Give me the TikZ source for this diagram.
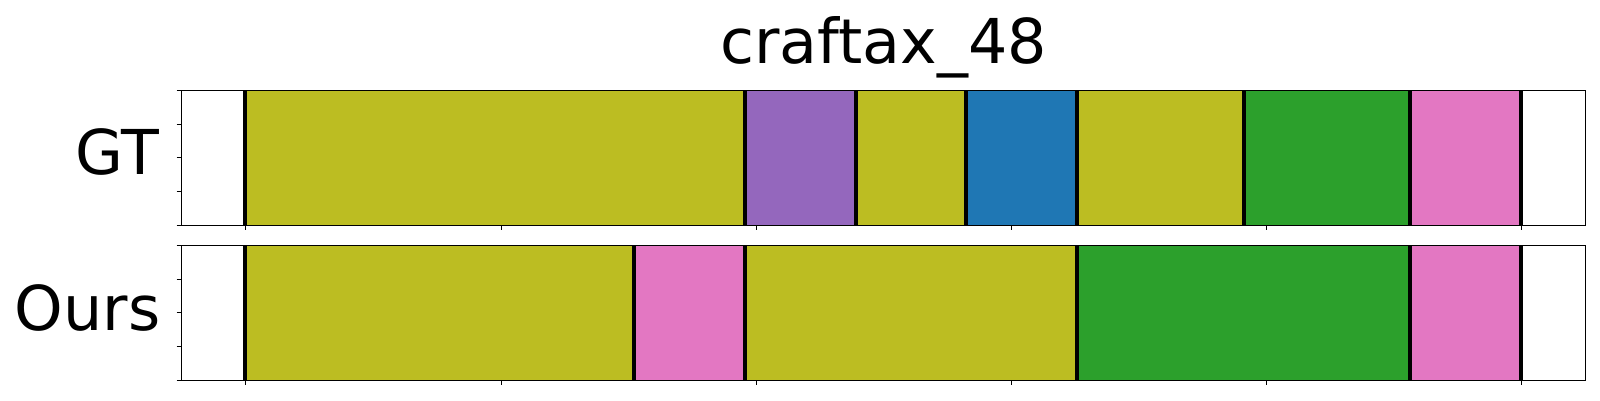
\documentclass[tikz,border=0pt]{standalone}
\usepackage{fontspec}
\setmainfont{DejaVu Sans}
\definecolor{tabolive}{HTML}{BCBD22}
\definecolor{tabpurple}{HTML}{9467BD}
\definecolor{tabblue}{HTML}{1F77B4}
\definecolor{tabgreen}{HTML}{2CA02C}
\definecolor{tabpink}{HTML}{E377C2}

\begin{document}
\begin{tikzpicture}[x=0.1mm, y=-0.1mm,
    seg/.style={fill=#1, draw=#1!80!black, line width=0.25pt},
    cut/.style={line width=0.4mm},
    frame/.style={line width=0.1mm},
    tck/.style={line width=0.08mm},
    lab/.style={font=\fontsize{17.6}{20}\selectfont, inner sep=0pt}]
    \useasboundingbox (0,0) rectangle (1600,400);
    \node[lab, anchor=base] (title) at (883.6,63.3) {craftax\_48};
    \node[lab, anchor=base east] (gt) at (160,174.7) {GT};
    \node[lab, anchor=base east] (ours) at (161,330) {Ours};
    % GT row
    \foreach \a/\b/\c in {244.7/745/tabolive, 745/855.7/tabpurple, 855.7/966/tabolive,
        966/1077/tabblue, 1077/1243.8/tabolive, 1243.8/1410/tabgreen, 1410/1521/tabpink}
        \draw[seg=\c] (\a,90.3) rectangle (\b,225.3);
    \foreach \a in {244.7, 745, 855.7, 966, 1077, 1243.8, 1410, 1521}
        \draw[cut] (\a,90.3) -- (\a,225.3);
    % Ours row
    \foreach \a/\b/\c in {244.7/633.7/tabolive, 633.7/745/tabpink, 745/1077/tabolive,
        1077/1410/tabgreen, 1410/1521/tabpink}
        \draw[seg=\c] (\a,245.3) rectangle (\b,380.3);
    \foreach \a in {244.7, 633.7, 745, 1077, 1410, 1521}
        \draw[cut] (\a,245.3) -- (\a,380.3);
    % frames and ticks
    \foreach \t in {90.3, 245.3} {
        \draw[frame] (181.5,\t) rectangle (1585.7,\t+135);
        \foreach \k in {0,...,4}
            \draw[tck] (176.7,\t+33.75*\k) -- (181.5,\t+33.75*\k);
        \foreach \k in {0,...,5}
            \draw[tck] (245.7+255.2*\k,\t+135) -- (245.7+255.2*\k,\t+140);
    }
\end{tikzpicture}
\end{document}
